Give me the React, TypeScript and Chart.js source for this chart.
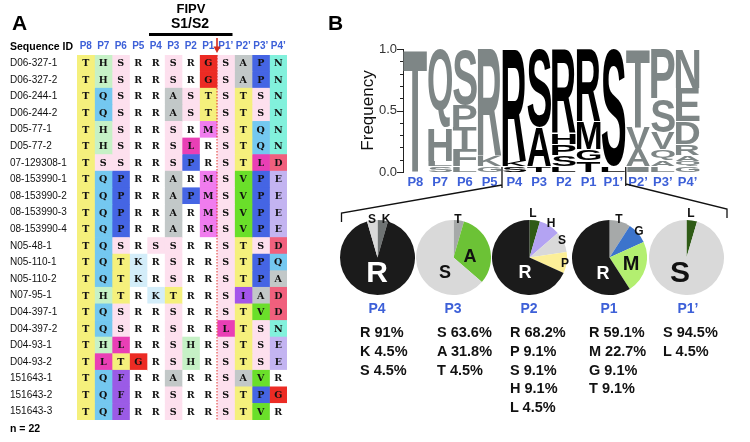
import React, { useEffect, useRef } from "react";
import { Chart, registerables } from "chart.js";

Chart.register(...registerables);

// ---------- DATA ----------
const columns = ["P8", "P7", "P6", "P5", "P4", "P3", "P2", "P1", "P1’", "P2’", "P3’", "P4’"];

const seqIds = [
  "D06-327-1", "D06-327-2", "D06-244-1", "D06-244-2", "D05-77-1", "D05-77-2",
  "07-129308-1", "08-153990-1", "08-153990-2", "08-153990-3", "08-153990-4",
  "N05-48-1", "N05-110-1", "N05-110-2", "N07-95-1", "D04-397-1", "D04-397-2",
  "D04-93-1", "D04-93-2", "151643-1", "151643-2", "151643-3",
];

const sequences = [
  "THSRRSRGSAPN", "THSRRSRGSAPN", "TQSRRASTSTSN", "TQSRRASTSTSN", "THSRRSRMSTQN", "THSRRSLRSTQN",
  "TSSRRSPRSTLD", "TQPRRARMSVPE", "TQPRRAPMSVPE", "TQPRRARMSVPE", "TQPRRARMSVPE",
  "TQSRSSRRSTSD", "TQTKRSRRSTPQ", "TQTKRSRRSTPA", "THTRKTRRSIAD", "TQSRRSRRSTVD", "TQSRRSRRLTSN",
  "THLRRSHRSTSE", "TLTGRSHRSTSE", "TQFRRARRSAVR", "TQFRRSRRSTPG", "TQFRRSRRSTVR",
];

const residueColors: Record<string, string> = {
  T: "#f5f07c", H: "#c6f1c6", S: "#fde0ee", R: "#ffffff", Q: "#74c8f0", A: "#c2c8c8",
  G: "#ec2b24", M: "#f07cee", L: "#e93fb5", P: "#4565e4", V: "#6adf2a", N: "#82f1dc",
  D: "#f0607d", E: "#c3b4f1", K: "#d3edf9", I: "#a455ea", F: "#9b5be6",
};

// sequence logo: letters top-to-bottom with counts (of 22)
const logoTotal = 22;
const logoStacks: [string, number][][] = [
  [["T", 22]],
  [["Q", 14], ["H", 6], ["L", 1], ["S", 1]],
  [["S", 10], ["P", 4], ["T", 4], ["F", 3], ["L", 1]],
  [["R", 19], ["K", 2], ["G", 1]],
  [["R", 20], ["K", 1], ["S", 1]],
  [["S", 14], ["A", 7], ["T", 1]],
  [["R", 15], ["H", 2], ["P", 2], ["S", 2], ["L", 1]],
  [["R", 13], ["M", 5], ["G", 2], ["T", 2]],
  [["S", 21], ["L", 1]],
  [["T", 14], ["V", 4], ["A", 3], ["I", 1]],
  [["P", 9], ["S", 6], ["V", 3], ["Q", 2], ["A", 1], ["L", 1]],
  [["N", 7], ["E", 6], ["D", 4], ["R", 2], ["A", 1], ["Q", 1], ["G", 1]],
];
const logoHighlight = [4, 5, 6, 7, 8];

// pies (clockwise from 12 o'clock)
const pieNames = ["P4", "P3", "P2", "P1", "P1’"];
const pieP4Letters = ["K", "R", "S"];
const pieP4Values = [4.5, 91, 4.5];
const pieP3Letters = ["T", "A", "S"];
const pieP3Values = [4.5, 31.8, 63.6];
const pieP2Letters = ["L", "H", "S", "P", "R"];
const pieP2Values = [4.5, 9.1, 9.1, 9.1, 68.2];
const pieP1Letters = ["T", "G", "M", "R"];
const pieP1Values = [9.1, 9.1, 22.7, 59.1];
const pieP1pLetters = ["L", "S"];
const pieP1pValues = [4.5, 94.5];

const pieTextP4 = ["R 91%", "K 4.5%", "S 4.5%"];
const pieTextP3 = ["S 63.6%", "A 31.8%", "T 4.5%"];
const pieTextP2 = ["R 68.2%", "P 9.1%", "S 9.1%", "H 9.1%", "L 4.5%"];
const pieTextP1 = ["R 59.1%", "M 22.7%", "G 9.1%", "T 9.1%"];
const pieTextP1p = ["S 94.5%", "L 4.5%"];

// ---------- STYLE ----------
const SANS = '"Liberation Sans", Arial, Helvetica, sans-serif';
const BLUE = "#3d60d8";
const LOGO_GRAY = "#7e8686";

const pieColorMaps: Record<string, string>[] = [
  { K: "#6f7373", R: "#1b1b1b", S: "#d9d9d9" },
  { T: "#a6a9a9", A: "#6cc236", S: "#d9d9d9" },
  { L: "#2f5b16", H: "#b3a3f2", S: "#d9d9d9", P: "#fcef98", R: "#1b1b1b" },
  { T: "#a6a9a9", G: "#3c74cc", M: "#b3ef70", R: "#1b1b1b" },
  { L: "#2f5b16", S: "#d9d9d9" },
];

const pies = [
  { letters: pieP4Letters, values: pieP4Values, text: pieTextP4 },
  { letters: pieP3Letters, values: pieP3Values, text: pieTextP3 },
  { letters: pieP2Letters, values: pieP2Values, text: pieTextP2 },
  { letters: pieP1Letters, values: pieP1Values, text: pieTextP1 },
  { letters: pieP1pLetters, values: pieP1pValues, text: pieTextP1p },
];

const pieCenters = [[377, 257], [453, 257], [529, 257], [609, 257], [686, 257]];
const pieTextLeft = [360, 437, 510, 589, 663];
const PIE_SIZE = 75;

type Lbl = { t: string; x: number; y: number; s: number; c: string };
const pieLabels: Lbl[] = [
  { t: "S", x: 372, y: 219, s: 12, c: "#111" },
  { t: "K", x: 386, y: 219, s: 12, c: "#111" },
  { t: "R", x: 377, y: 272, s: 30, c: "#fff" },
  { t: "T", x: 458, y: 219, s: 12, c: "#111" },
  { t: "A", x: 470, y: 256, s: 18, c: "#111" },
  { t: "S", x: 445, y: 272, s: 18, c: "#111" },
  { t: "L", x: 533, y: 213, s: 12, c: "#111" },
  { t: "H", x: 551, y: 223, s: 12, c: "#111" },
  { t: "S", x: 562, y: 240, s: 12, c: "#111" },
  { t: "P", x: 565, y: 263, s: 12, c: "#111" },
  { t: "R", x: 525, y: 272, s: 18, c: "#fff" },
  { t: "T", x: 619, y: 219, s: 12, c: "#111" },
  { t: "G", x: 639, y: 231, s: 12, c: "#111" },
  { t: "M", x: 631, y: 263, s: 20, c: "#111" },
  { t: "R", x: 603, y: 273, s: 18, c: "#fff" },
  { t: "L", x: 691, y: 213, s: 12, c: "#111" },
  { t: "S", x: 680, y: 272, s: 30, c: "#111" },
];

function drawGlyph(ctx: CanvasRenderingContext2D, ch: string, x: number, y: number, w: number, h: number, color: string) {
  ctx.save();
  ctx.font = `bold 100px ${SANS}`;
  ctx.textAlign = "left";
  ctx.textBaseline = "alphabetic";
  const m = ctx.measureText(ch);
  const gw = m.actualBoundingBoxLeft + m.actualBoundingBoxRight;
  const gh = m.actualBoundingBoxAscent + m.actualBoundingBoxDescent;
  ctx.translate(x, y);
  ctx.scale(w / gw, h / gh);
  ctx.fillStyle = color;
  ctx.fillText(ch, m.actualBoundingBoxLeft, m.actualBoundingBoxAscent);
  ctx.restore();
}

const alignPlugin = {
  id: "alignDeco",
  afterDatasetsDraw(chart: any) {
    const ctx: CanvasRenderingContext2D = chart.ctx;
    const xs = chart.scales.x;
    const area = chart.chartArea;
    ctx.save();
    ctx.font = 'bold 9.5px "DejaVu Serif", serif';
    ctx.textAlign = "center";
    ctx.textBaseline = "middle";
    ctx.fillStyle = "#111";
    chart.data.datasets.forEach((_ds: any, c: number) => {
      chart.getDatasetMeta(c).data.forEach((el: any, r: number) => {
        const cx = (el.x + el.base) / 2;
        ctx.fillText(sequences[r][c], cx, el.y + 0.5);
      });
    });
    const xb = xs.getPixelForValue(8);
    ctx.strokeStyle = "#e0302a";
    ctx.lineWidth = 1;
    ctx.setLineDash([1.5, 1.5]);
    ctx.beginPath();
    ctx.moveTo(xb, area.top);
    ctx.lineTo(xb, area.bottom);
    ctx.stroke();
    ctx.setLineDash([]);
    // black bar over S1/S2 region
    const x4 = xs.getPixelForValue(4);
    const x9 = xs.getPixelForValue(9);
    ctx.fillStyle = "#000";
    ctx.fillRect(x4 + 2, 33, x9 - x4 - 4, 3);
    // red arrow
    ctx.strokeStyle = "#d42a1e";
    ctx.lineWidth = 1.6;
    ctx.beginPath();
    ctx.moveTo(xb, 38);
    ctx.lineTo(xb, 48);
    ctx.stroke();
    ctx.fillStyle = "#d42a1e";
    ctx.beginPath();
    ctx.moveTo(xb - 3.5, 46.5);
    ctx.lineTo(xb + 3.5, 46.5);
    ctx.lineTo(xb, 53);
    ctx.closePath();
    ctx.fill();
    ctx.restore();
  },
};

const logoPlugin = {
  id: "logoDeco",
  afterDatasetsDraw(chart: any) {
    const ctx: CanvasRenderingContext2D = chart.ctx;
    chart.data.datasets.forEach((ds: any, k: number) => {
      chart.getDatasetMeta(k).data.forEach((el: any, c: number) => {
        const letter = ds.letters[c];
        if (!letter) return;
        const top = Math.min(el.y, el.base);
        const bottom = Math.max(el.y, el.base);
        const h = bottom - top;
        if (h < 0.5) return;
        const w = el.width;
        drawGlyph(ctx, letter, el.x - w / 2, top + 0.3, w, h - 0.6, logoHighlight.includes(c) ? "#000" : LOGO_GRAY);
      });
    });
  },
  afterDraw(chart: any) {
    const ctx: CanvasRenderingContext2D = chart.ctx;
    const ys = chart.scales.y;
    const xs = chart.scales.x;
    const ax = chart.chartArea.left;
    ctx.save();
    ctx.strokeStyle = "#222";
    ctx.lineWidth = 1;
    for (let i = 0; i <= 10; i++) {
      const y = Math.round(ys.getPixelForValue(i / 10)) + 0.5;
      const len = i % 5 === 0 ? 6 : 3;
      ctx.beginPath();
      ctx.moveTo(ax - len, y);
      ctx.lineTo(ax, y);
      ctx.stroke();
    }
    // brackets to pies
    const xL = (xs.getPixelForValue(3) + xs.getPixelForValue(4)) / 2;
    const xR = (xs.getPixelForValue(8) + xs.getPixelForValue(9)) / 2;
    ctx.strokeStyle = "#111";
    ctx.lineWidth = 1.3;
    ctx.beginPath();
    ctx.moveTo(xL, 167);
    ctx.lineTo(xL, 188);
    ctx.moveTo(xL, 185);
    ctx.lineTo(1.5, 213);
    ctx.lineTo(1.5, 222);
    ctx.moveTo(xR, 167);
    ctx.lineTo(xR, 186);
    ctx.moveTo(xR, 184);
    ctx.lineTo(387, 209);
    ctx.lineTo(387, 218);
    ctx.stroke();
    ctx.restore();
  },
};

export default function App() {
  const alignRef = useRef<HTMLCanvasElement>(null);
  const logoRef = useRef<HTMLCanvasElement>(null);
  const pieRefs = useRef<(HTMLCanvasElement | null)[]>([]);

  useEffect(() => {
    const charts: Chart[] = [];

    // ---- alignment table ----
    if (alignRef.current) {
      charts.push(
        new Chart(alignRef.current, {
          type: "bar",
          data: {
            labels: seqIds,
            datasets: columns.map((col, c) => ({
              label: col,
              data: seqIds.map(() => [c, c + 1]) as any,
              backgroundColor: sequences.map((s) => residueColors[s[c]] || "#fff"),
              borderWidth: 0,
              grouped: false,
              barPercentage: 1,
              categoryPercentage: 1,
            })),
          },
          options: {
            indexAxis: "y",
            animation: false,
            responsive: false,
            devicePixelRatio: 1,
            layout: { padding: { left: 10, top: 38, right: 13, bottom: 22 } },
            plugins: { legend: { display: false }, tooltip: { enabled: false } },
            scales: {
              x: {
                type: "linear",
                position: "top",
                min: 0,
                max: 12,
                grid: { display: false, drawTicks: false },
                border: { display: false },
                afterBuildTicks: (s: any) => {
                  s.ticks = columns.map((_, i) => ({ value: i + 0.5 }));
                },
                afterFit: (s: any) => {
                  s.height = 17;
                },
                ticks: {
                  autoSkip: false,
                  maxRotation: 0,
                  padding: 3,
                  color: BLUE,
                  font: { family: SANS, size: 10, weight: "bold" },
                  callback: (_v: any, i: number) => columns[i],
                },
              },
              y: {
                type: "category",
                grid: { display: false, drawTicks: false },
                border: { display: false },
                afterFit: (s: any) => {
                  s.width = 67;
                },
                ticks: {
                  autoSkip: false,
                  crossAlign: "far",
                  padding: 0,
                  color: "#111",
                  font: { family: SANS, size: 10 },
                },
              },
            },
          } as any,
          plugins: [alignPlugin],
        })
      );
    }

    // ---- sequence logo ----
    if (logoRef.current) {
      const maxLen = Math.max(...logoStacks.map((s) => s.length));
      const datasets: any[] = [];
      for (let k = 0; k < maxLen; k++) {
        const letters: string[] = [];
        const data: number[] = [];
        logoStacks.forEach((stack) => {
          const asc = stack.slice().reverse();
          const item = asc[k];
          letters.push(item ? item[0] : "");
          data.push(item ? item[1] / logoTotal : 0);
        });
        datasets.push({
          label: "rank" + k,
          data,
          letters,
          backgroundColor: "rgba(0,0,0,0)",
          borderWidth: 0,
          barPercentage: 0.96,
          categoryPercentage: 1,
        });
      }
      charts.push(
        new Chart(logoRef.current, {
          type: "bar",
          data: { labels: columns, datasets },
          options: {
            animation: false,
            responsive: false,
            devicePixelRatio: 1,
            layout: { padding: { left: 18, top: 49, right: 50, bottom: 38 } },
            plugins: { legend: { display: false }, tooltip: { enabled: false } },
            scales: {
              x: {
                type: "category",
                stacked: true,
                grid: { display: false, drawTicks: false },
                border: { display: false },
                afterFit: (s: any) => {
                  s.height = 20;
                },
                ticks: {
                  autoSkip: false,
                  maxRotation: 0,
                  padding: 3,
                  color: BLUE,
                  font: { family: SANS, size: 13, weight: "bold" },
                },
              },
              y: {
                type: "linear",
                stacked: true,
                min: 0,
                max: 1,
                grid: { display: false, drawTicks: false },
                border: { display: true, color: "#222", width: 1 },
                afterFit: (s: any) => {
                  s.width = 45;
                },
                title: {
                  display: true,
                  text: "Frequency",
                  color: "#111",
                  padding: 0,
                  font: { family: SANS, size: 17 },
                },
                ticks: {
                  stepSize: 0.5,
                  padding: 6,
                  color: "#333",
                  font: { family: SANS, size: 13 },
                  callback: (v: any) => Number(v).toFixed(1),
                },
              },
            },
          } as any,
          plugins: [logoPlugin],
        })
      );
    }

    // ---- pies ----
    pies.forEach((p, i) => {
      const cv = pieRefs.current[i];
      if (!cv) return;
      charts.push(
        new Chart(cv, {
          type: "pie",
          data: {
            labels: p.letters,
            datasets: [
              {
                data: p.values,
                backgroundColor: p.letters.map((l) => pieColorMaps[i][l]),
                borderWidth: 0,
              },
            ],
          },
          options: {
            animation: false,
            responsive: false,
            devicePixelRatio: 1,
            layout: { padding: 0 },
            plugins: { legend: { display: false }, tooltip: { enabled: false } },
          } as any,
        })
      );
    });

    return () => charts.forEach((c) => c.destroy());
  }, []);

  const abs = (x: number, y: number, size: number, extra: React.CSSProperties = {}): React.CSSProperties => ({
    position: "absolute",
    left: x,
    top: y,
    fontSize: size,
    lineHeight: 1,
    whiteSpace: "nowrap",
    ...extra,
  });
  const centered = (x: number, y: number, size: number, color: string, bold = true): React.CSSProperties =>
    abs(x, y, size, { transform: "translate(-50%, -50%)", color, fontWeight: bold ? 700 : 400 });

  return (
    <div
      style={{
        position: "absolute",
        left: 0,
        top: 0,
        width: 750,
        height: 442,
        background: "#fff",
        overflow: "hidden",
        fontFamily: SANS,
      }}
    >
      <canvas ref={alignRef} width={300} height={442} style={{ position: "absolute", left: 0, top: 0, width: 300, height: 442 }} />
      <canvas ref={logoRef} width={410} height={230} style={{ position: "absolute", left: 340, top: 0, width: 410, height: 230 }} />
      {pies.map((_, i) => (
        <canvas
          key={i}
          ref={(el) => {
            pieRefs.current[i] = el;
          }}
          width={PIE_SIZE}
          height={PIE_SIZE}
          style={{
            position: "absolute",
            left: pieCenters[i][0] - PIE_SIZE / 2,
            top: pieCenters[i][1] - PIE_SIZE / 2,
            width: PIE_SIZE,
            height: PIE_SIZE,
          }}
        />
      ))}

      <div style={abs(12, 12, 21, { fontWeight: 700, color: "#000" })}>A</div>
      <div style={abs(328, 12, 21, { fontWeight: 700, color: "#000" })}>B</div>
      <div style={centered(191, 8, 13, "#000")}>FIPV</div>
      <div style={centered(190, 23, 14, "#000")}>S1/S2</div>
      <div style={abs(10, 41, 10.5, { fontWeight: 700, color: "#000" })}>Sequence ID</div>
      <div style={abs(10, 423, 10.5, { fontWeight: 700, color: "#000" })}>n = 22</div>

      {pieLabels.map((l, i) => (
        <div key={"pl" + i} style={centered(l.x, l.y, l.s, l.c)}>
          {l.t}
        </div>
      ))}
      {pieNames.map((n, i) => (
        <div key={"pn" + i} style={centered(pieCenters[i][0] + (i === 4 ? 2 : 0), 308, 14, BLUE)}>
          {n}
        </div>
      ))}
      {pies.map((p, i) =>
        p.text.map((t, j) => (
          <div
            key={"pt" + i + "-" + j}
            style={abs(pieTextLeft[i], 332 + j * 18.8, 14.5, { transform: "translateY(-50%)", fontWeight: 700, color: "#111" })}
          >
            {t}
          </div>
        ))
      )}
    </div>
  );
}
